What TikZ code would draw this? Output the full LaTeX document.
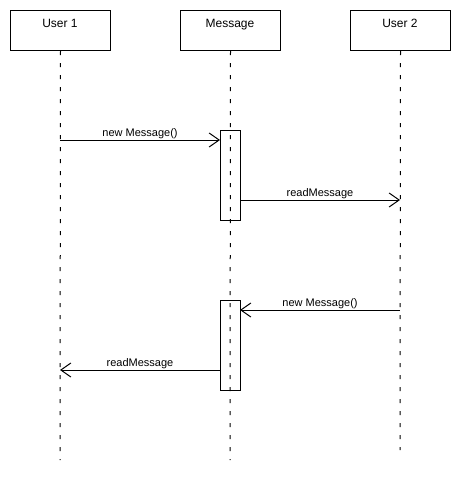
\documentclass[tikz,border=0pt]{standalone}
\usepackage{fontspec}
\setmainfont{Liberation Sans}
\usetikzlibrary{arrows.meta}
\begin{document}
\begin{tikzpicture}[x=1pt,y=-1pt,
  head/.style={draw,line width=1pt,minimum width=100pt,minimum height=40pt,inner sep=0pt,anchor=north west},
  headtext/.style={font=\fontsize{12}{14}\selectfont,anchor=base},
  life/.style={line width=1pt,dash pattern=on 4pt off 8pt},
  actbox/.style={draw,line width=1pt,minimum width=20pt,minimum height=90pt,inner sep=0pt,anchor=north west},
  msg/.style={line width=1pt,-{Straight Barb[length=10pt,width=14pt,line width=1pt]}},
  lbl/.style={font=\fontsize{11}{13}\selectfont,anchor=base}]
\useasboundingbox (0,0) rectangle (460,490);
% heads
\node[head] (u1) at (10,10) {};
\node[head] (m) at (180,10) {};
\node[head] (u2) at (350,10) {};
\node[headtext] (u1t) at (60,27) {User 1};
\node[headtext] (mt) at (230,27) {Message};
\node[headtext] (u2t) at (400,27) {User 2};
% lifeline ends
\coordinate (u1e) at (60,460);
\coordinate (me) at (230,460);
\coordinate (u2e) at (400,450);
\draw[life] (u1.south) -- (u1e);
\draw[life] (m.south) -- (me);
\draw[life] (u2.south) -- (u2e);
% activations
\node[actbox] (a1) at (220,130) {};
\node[actbox] (a2) at (220,300) {};
% messages
\coordinate (p1) at (60,140);
\coordinate (q1) at (220,140);
\draw[msg] (p1) -- (q1);
\node[lbl] (l1) at (140,136) {new Message()};
\coordinate (p2) at (240,200);
\coordinate (q2) at (400,200);
\draw[msg] (p2) -- (q2);
\node[lbl] (l2) at (320,196) {readMessage};
\coordinate (p3) at (400,310);
\coordinate (q3) at (240,310);
\draw[msg] (p3) -- (q3);
\node[lbl] (l3) at (320,306) {new Message()};
\coordinate (p4) at (220,370);
\coordinate (q4) at (60,370);
\draw[msg] (p4) -- (q4);
\node[lbl] (l4) at (140,366) {readMessage};
\end{tikzpicture}
\end{document}
